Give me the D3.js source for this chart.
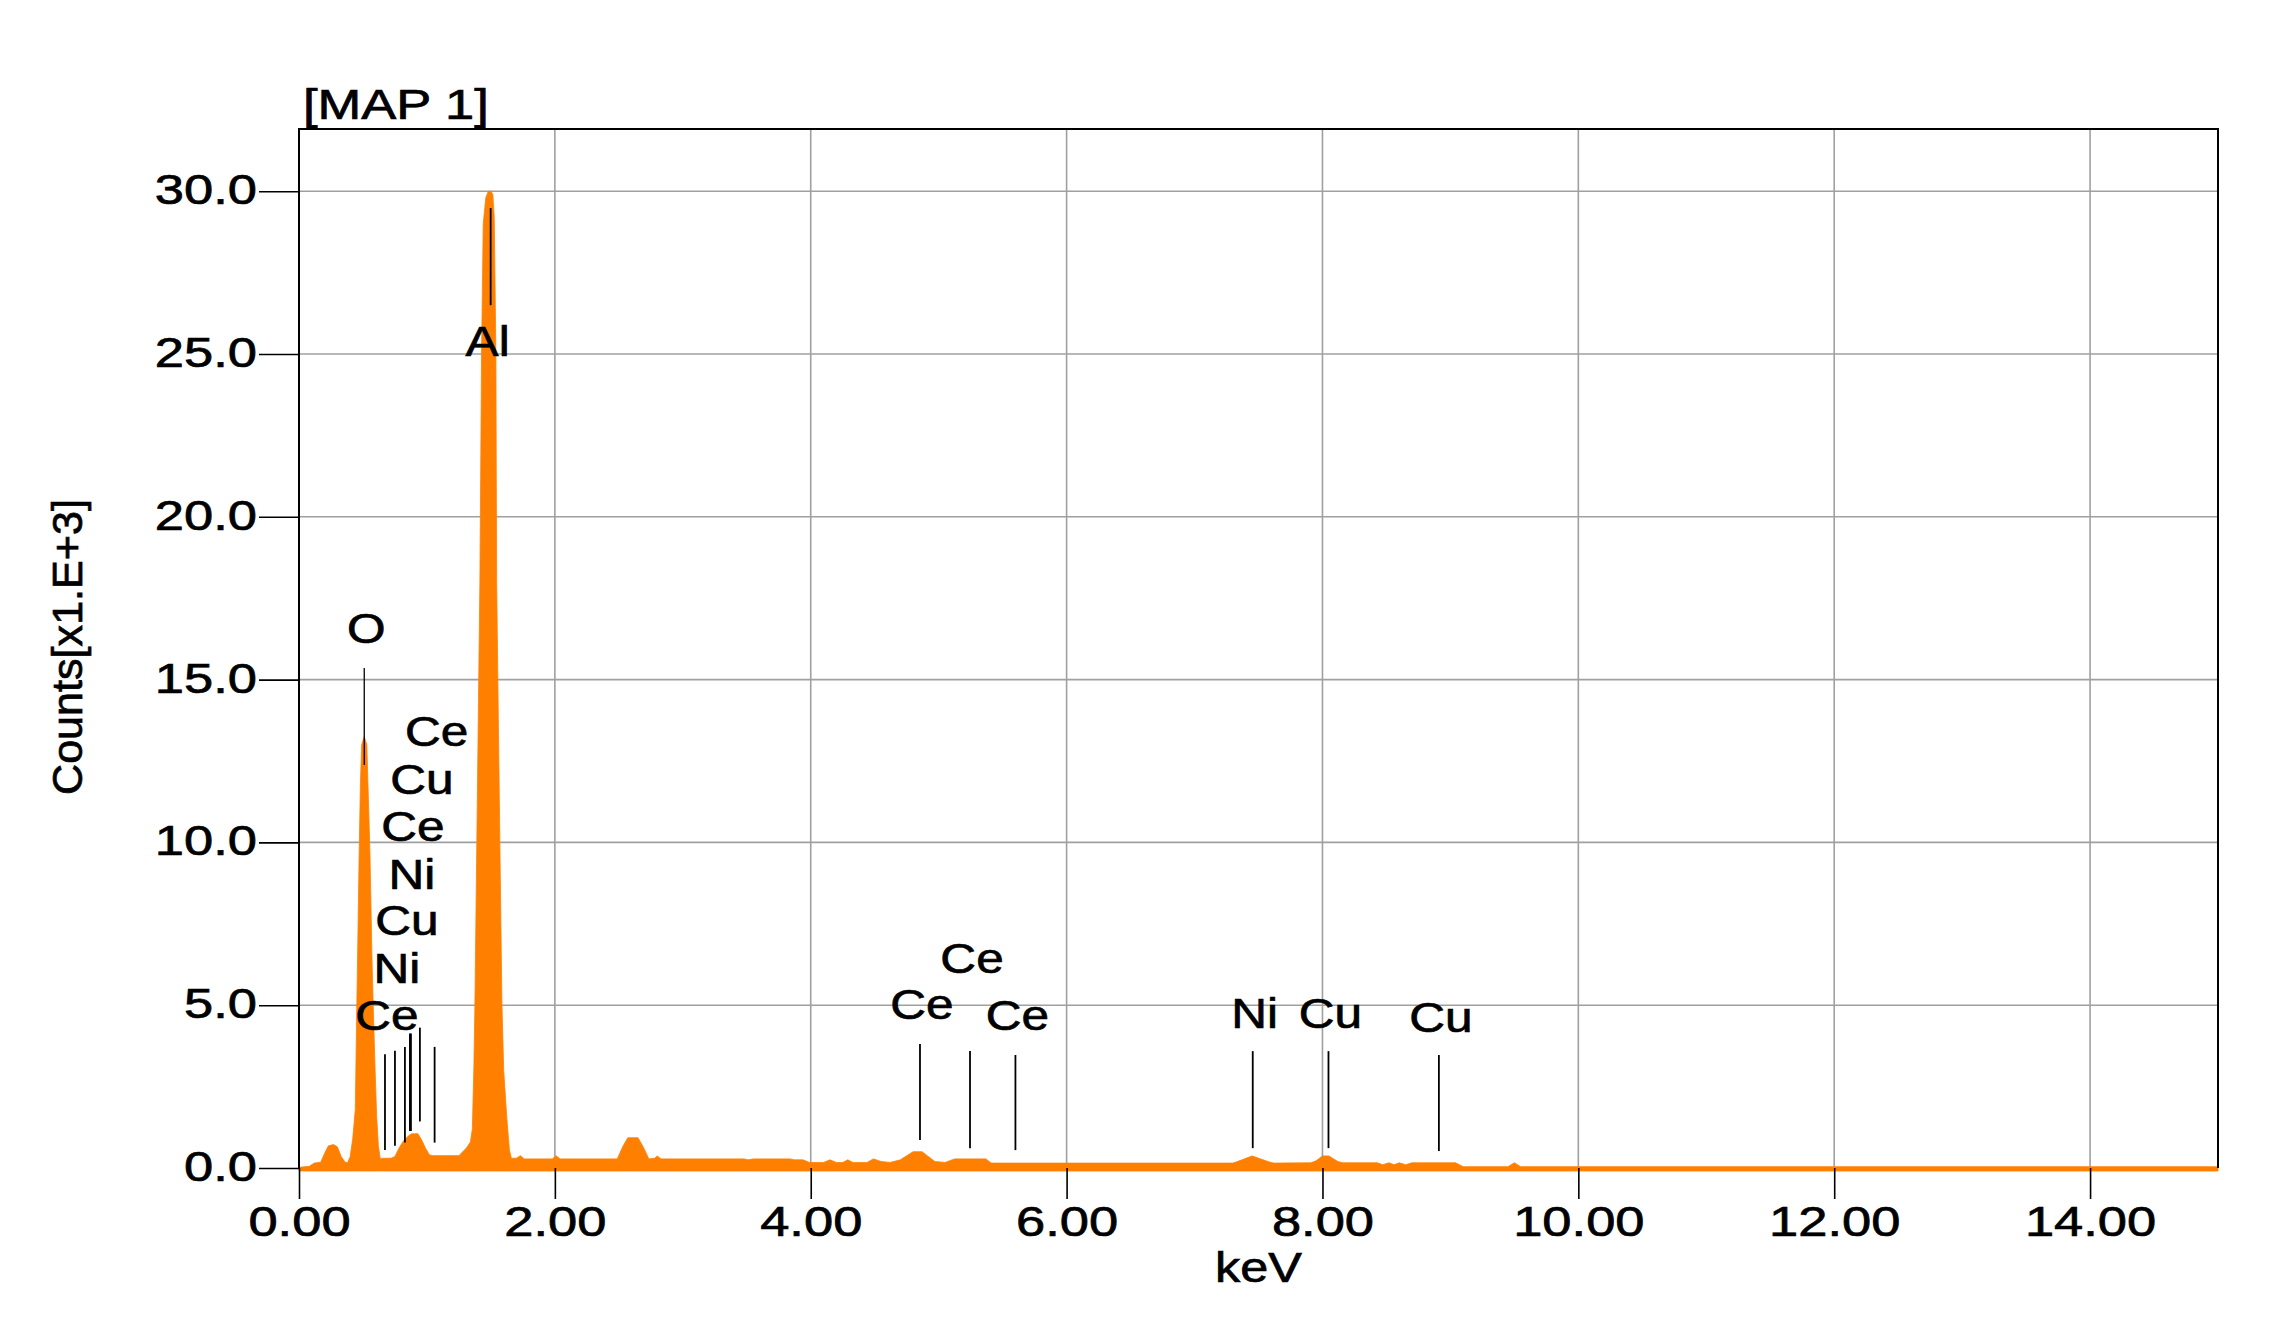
<!DOCTYPE html>
<html>
<head>
<meta charset="utf-8">
<script src="https://cdn.jsdelivr.net/npm/d3@7"></script>
<style>
  html, body { margin: 0; padding: 0; background: #fff; }
  svg { display: block; }
  text { font-family: "Liberation Sans", Arial, sans-serif; fill: #000; stroke: #000; stroke-width: 0.7px; }
</style>
</head>
<body>
<svg id="chart" width="2287" height="1336"></svg>
<script>
// ---- Data (keV, counts in thousands) ----
const energy = [0.00,0.08,0.12,0.17,0.20,0.23,0.27,0.30,0.33,0.36,0.38,0.40,0.42,0.44,0.45,0.46,0.47,0.48,0.49,0.51,0.53,0.545,0.555,0.57,0.58,0.595,0.607,0.62,0.635,0.66,0.72,0.75,0.78,0.82,0.86,0.88,0.93,0.96,0.99,1.02,1.05,1.25,1.28,1.31,1.34,1.355,1.367,1.375,1.39,1.414,1.427,1.44,1.46,1.48,1.50,1.515,1.526,1.539,1.545,1.57,1.586,1.60,1.625,1.645,1.66,1.70,1.73,1.76,1.98,2.01,2.04,2.48,2.49,2.53,2.57,2.65,2.69,2.735,2.78,2.80,2.83,3.48,3.51,3.55,3.84,3.87,3.94,3.99,4.10,4.15,4.20,4.25,4.29,4.33,4.44,4.49,4.55,4.62,4.70,4.80,4.87,4.97,5.05,5.125,5.37,5.41,7.30,7.33,7.45,7.58,7.62,7.91,7.95,8.00,8.05,8.12,8.16,8.43,8.47,8.52,8.56,8.60,8.65,8.70,8.74,9.04,9.10,9.45,9.50,9.55,15.0];
const counts = [0.02,0.05,0.15,0.18,0.45,0.68,0.72,0.65,0.35,0.18,0.16,0.35,0.9,1.8,4.5,7.0,9.6,11.8,13.0,13.25,13.0,11.0,9.6,6.5,5.0,3.0,1.6,0.7,0.28,0.3,0.3,0.35,0.6,0.85,1.0,1.05,1.05,0.85,0.6,0.4,0.38,0.38,0.5,0.62,0.8,1.2,3.1,5.0,10.0,18.0,25.0,29.0,29.8,30.0,30.0,29.9,29.2,25.0,18.0,10.0,5.1,3.0,1.5,0.55,0.3,0.3,0.38,0.28,0.28,0.38,0.28,0.28,0.3,0.65,0.93,0.93,0.65,0.28,0.3,0.37,0.28,0.28,0.25,0.28,0.28,0.25,0.25,0.17,0.17,0.25,0.17,0.17,0.25,0.17,0.17,0.28,0.20,0.17,0.25,0.5,0.5,0.2,0.17,0.28,0.28,0.15,0.15,0.19,0.37,0.19,0.15,0.16,0.22,0.37,0.37,0.2,0.16,0.16,0.10,0.16,0.10,0.16,0.10,0.16,0.16,0.16,0.04,0.04,0.16,0.04,0.04];

// Element marker lines (energy in keV; line extent and label level in counts x1000)
const markerElement = ["O","Al","Ce","Ni","Cu","Ni","Ce","Cu","Ce","Ce","Ce","Ce","Ni","Cu","Cu"];
const markerKeV     = [0.51,1.498,0.672,0.750,0.828,0.867,0.875,0.945,1.060,4.854,5.245,5.600,7.455,8.047,8.910];
const markerTop     = [15.36,29.48,3.49,3.60,3.72,4.13,4.13,4.31,3.72,3.81,3.59,3.47,3.59,3.59,3.47];
const markerBottom  = [12.38,26.50,0.55,0.68,0.78,1.14,1.14,1.43,0.78,0.86,0.61,0.55,0.61,0.61,0.52];
const markerLabel   = [16.12,24.94,4.24,5.68,7.16,8.57,10.04,11.49,12.96,4.58,5.99,4.24,4.30,4.30,4.18];

const xTicks = [0,2,4,6,8,10,12,14];
const yTicks = [0,5,10,15,20,25,30];
const title = "[MAP 1]";
const xTitle = "keV";
const yTitle = "Counts[x1.E+3]";

// ---- Layout ----
const svg = d3.select("#chart");
const L = 299, R = 2218, T = 129, B = 1168;
const x = d3.scaleLinear().domain([0, 15]).range([L, R]);
const y = d3.scaleLinear().domain([0, (B - T) / 32.56]).range([B, T]);
const orange = "#ff8000";
const SX = 1.25;

// gridlines
svg.append("g").selectAll("line").data(xTicks.filter(d => d > 0)).join("line")
  .attr("x1", d => x(d)).attr("x2", d => x(d)).attr("y1", T).attr("y2", B)
  .attr("stroke", "#a0a0a0").attr("stroke-width", 1.6);
svg.append("g").selectAll("line").data(yTicks.filter(d => d > 0)).join("line")
  .attr("x1", L).attr("x2", R).attr("y1", d => y(d)).attr("y2", d => y(d))
  .attr("stroke", "#a0a0a0").attr("stroke-width", 1.6);

// spectrum
const pts = energy.map((e, i) => [e, counts[i]]);
const area = d3.area().x(d => x(d[0])).y0(y(0) + 3).y1(d => y(d[1])).curve(d3.curveLinear);
svg.append("path").datum(pts).attr("d", area).attr("fill", orange).attr("stroke", orange).attr("stroke-width", 0.8);

// marker lines
const markers = markerElement.map((el, i) => ({el, e: markerKeV[i], t: markerTop[i], b: markerBottom[i], l: markerLabel[i]}));
svg.append("g").selectAll("line").data(markers).join("line")
  .attr("x1", d => x(d.e)).attr("x2", d => x(d.e))
  .attr("y1", d => y(d.t)).attr("y2", d => y(d.b))
  .attr("stroke", "#000").attr("stroke-width", (d, i) => i === 0 ? 1.3 : 1.8);
svg.append("g").selectAll("text").data(markers).join("text")
  .attr("transform", d => `translate(${x(d.e) + (d.el === "Al" ? -3 : 2)},${y(d.l)}) scale(1.18,1)`)
  .attr("text-anchor", "middle").attr("font-size", 42)
  .text(d => d.el);

// border (left, top, right)
svg.append("path")
  .attr("d", `M${L},${B}V${T}H${R}V${B}`)
  .attr("fill", "none").attr("stroke", "#000").attr("stroke-width", 2);

// axes
const xAxis = d3.axisBottom(x).tickValues(xTicks).tickFormat(d3.format(".2f")).tickSize(31).tickSizeOuter(0);
const gx = svg.append("g").attr("transform", `translate(0,${B})`).call(xAxis);
gx.select(".domain").remove();
gx.selectAll(".tick line").attr("stroke", "#000").attr("stroke-width", 1.6);
gx.selectAll(".tick text").attr("y", 68).attr("dy", null)
  .attr("font-size", 42).attr("font-family", '"Liberation Sans", Arial, sans-serif')
  .attr("fill", "#000").attr("transform", `scale(${SX},1)`);

const yAxis = d3.axisLeft(y).tickValues(yTicks).tickFormat(d3.format(".1f")).tickSize(40).tickSizeOuter(0);
const gy = svg.append("g").attr("transform", `translate(${L},0)`).call(yAxis);
gy.select(".domain").remove();
gy.selectAll(".tick line").attr("stroke", "#000").attr("stroke-width", 1.6);
gy.selectAll(".tick text").attr("x", -33.6).attr("y", 12.5).attr("dy", null)
  .attr("font-size", 42).attr("font-family", '"Liberation Sans", Arial, sans-serif')
  .attr("fill", "#000").attr("transform", `scale(${SX},1)`);

// titles
svg.append("text").attr("transform", `translate(303,119) scale(${SX},1)`)
  .attr("font-size", 42).text(title);
svg.append("text").attr("transform", `translate(${(L + R) / 2},1282) scale(1.2,1)`)
  .attr("text-anchor", "middle").attr("font-size", 42).text(xTitle);
svg.append("text").attr("transform", `translate(82,647) rotate(-90)`)
  .attr("text-anchor", "middle").attr("font-size", 42)
  .attr("textLength", 296).attr("lengthAdjust", "spacingAndGlyphs").text(yTitle);
</script>
</body>
</html>
